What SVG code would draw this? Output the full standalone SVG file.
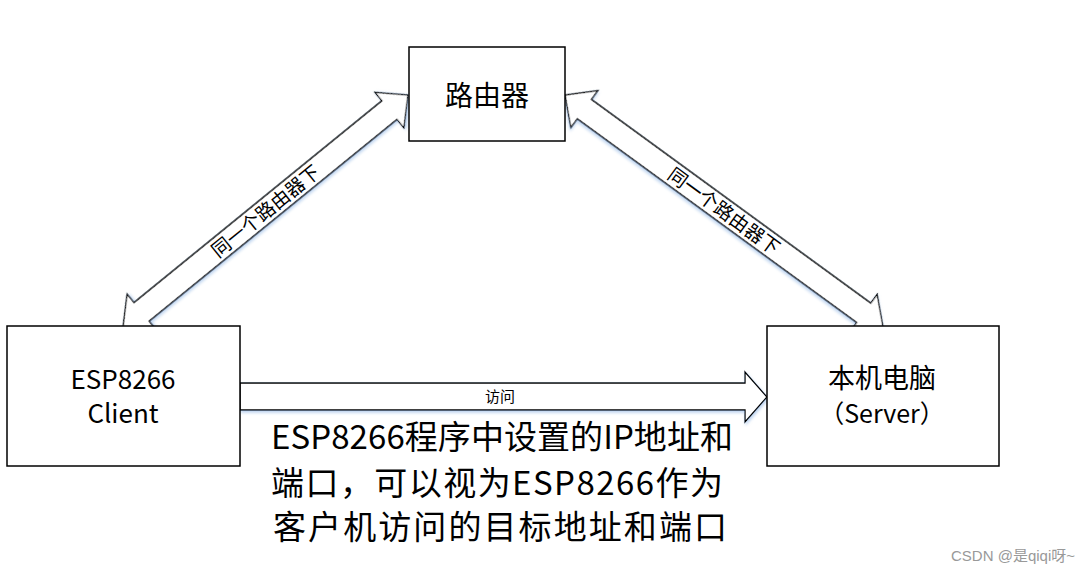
<svg xmlns="http://www.w3.org/2000/svg" width="1089" height="573" viewBox="0 0 1089 573">
<defs>
<style>
.box{fill:#fff;stroke:#000;stroke-width:1.5}
.arr{fill:#fff;stroke:#000;stroke-width:1.3;stroke-linejoin:miter;filter:url(#sh)}
.t{font-family:"Noto Sans CJK SC","Noto Sans",sans-serif;fill:#000;text-anchor:middle}
</style>
<filter id="sh" x="-10%" y="-10%" width="120%" height="120%">
<feDropShadow dx="1" dy="2" stdDeviation="1.5" flood-color="#8fb4e3" flood-opacity="0.6"/>
</filter>
</defs>
<rect width="1089" height="573" fill="#fff"/>
<g id="connectors">
<g id="arrow-left" transform="translate(123,327) rotate(-39.15)">
<polygon class="arr" points="0,0 24,-23 24,-12 343.5,-12 343.5,-23 367.5,0 343.5,23 343.5,12 24,12 24,23"/>
<text class="t" x="183.75" y="7" font-size="19">同一个路由器下</text>
</g>
<g id="arrow-right" transform="translate(565,95) rotate(36.1)">
<polygon class="arr" points="0,0 24,-23 24,-12 369.6,-12 369.6,-23 393.6,0 369.6,23 369.6,12 24,12 24,23"/>
<text class="t" x="196.8" y="7" font-size="19">同一个路由器下</text>
</g>
<g id="arrow-access">
<polygon class="arr" points="240,383 745,383 745,372 767,397 745,422 745,410 240,410"/>
<text class="t" x="500" y="402" font-size="15">访问</text>
</g>
</g>
<g id="router">
<rect class="box" x="409" y="47" width="156" height="94"/>
<text class="t" x="487" y="106" font-size="28">路由器</text>
</g>
<g id="esp">
<rect class="box" x="7" y="326" width="233" height="140"/>
<text class="t" x="123" y="389" font-size="26">ESP8266</text>
<text class="t" x="123" y="423" font-size="26">Client</text>
</g>
<g id="pc">
<rect class="box" x="767" y="326" width="232" height="140"/>
<text class="t" x="882" y="388" font-size="27">本机电脑</text>
<text class="t" x="882" y="423" font-size="25">（Server）</text>
</g>
<g id="note">
<text class="t" x="502" y="449" font-size="33" textLength="462" lengthAdjust="spacing">ESP8266程序中设置的IP地址和</text>
<text class="t" x="497" y="495" font-size="33" textLength="452" lengthAdjust="spacing">端口，可以视为ESP8266作为</text>
<text class="t" x="500" y="539" font-size="33" textLength="454" lengthAdjust="spacing">客户机访问的目标地址和端口</text>
</g>
<text x="1075" y="561" font-family="Liberation Sans,'Noto Sans CJK SC',sans-serif" font-size="15" fill="#999" text-anchor="end">CSDN @是qiqi呀~</text>
</svg>
